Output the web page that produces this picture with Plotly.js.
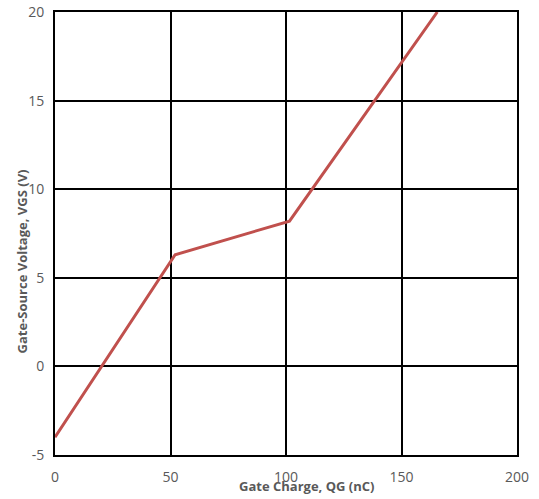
<!DOCTYPE html>
<html>
<head>
<meta charset="utf-8">
<script src="https://cdn.plot.ly/plotly-3.0.1.min.js"></script>
<style>html,body{margin:0;padding:0;background:#fff;}#chart{width:539px;height:499px;}</style>
</head>
<body>
<div id="chart"></div>
<script>
const gateCharge = [0, 52, 101.5, 165.5];
const gateVoltage = [-4, 6.3, 8.2, 20];
const xTicks = [0, 50, 100, 150, 200];
const yTicks = [-5, 0, 5, 10, 15, 20];
const xTitle = "Gate Charge, QG (nC)";
const yTitle = "Gate-Source Voltage, VGS (V)";

const trace = {
  x: gateCharge, y: gateVoltage, type: "scatter", mode: "lines",
  line: {color: "#c0504d", width: 3}, hoverinfo: "skip"
};
const axisCommon = {
  showgrid: true, gridcolor: "#000", gridwidth: 2,
  showline: true, linecolor: "#000", linewidth: 2, mirror: true,
  zeroline: false, ticks: "", fixedrange: true,
  tickfont: {family: "Open Sans, sans-serif", size: 14, color: "#595959"}
};
const layout = {
  width: 539, height: 499,
  margin: {l: 55, r: 22, t: 12, b: 44},
  paper_bgcolor: "#fff", plot_bgcolor: "#fff",
  showlegend: false,
  xaxis: Object.assign({}, axisCommon, {range: [0, 200], tickvals: xTicks, ticktext: xTicks.map(String), ticklabelstandoff: 8}),
  yaxis: Object.assign({}, axisCommon, {range: [-5, 20], tickvals: yTicks, ticktext: yTicks.map(String), ticklabelstandoff: 6}),
  annotations: [
    {text: "<b>" + xTitle + "</b>", xref: "paper", yref: "paper", x: 0.545, y: 0, yshift: -31, showarrow: false,
     xanchor: "center", yanchor: "middle", font: {family: "Open Sans, sans-serif", size: 13, color: "#595959"}},
    {text: "<b>" + yTitle + "</b>", xref: "paper", yref: "paper", x: 0, xshift: -33, y: 0.437, showarrow: false,
     textangle: -90, xanchor: "center", yanchor: "middle", font: {family: "Open Sans, sans-serif", size: 13, color: "#595959"}}
  ]
};
Plotly.newPlot("chart", [trace], layout, {displayModeBar: false, staticPlot: true});
</script>
</body>
</html>
